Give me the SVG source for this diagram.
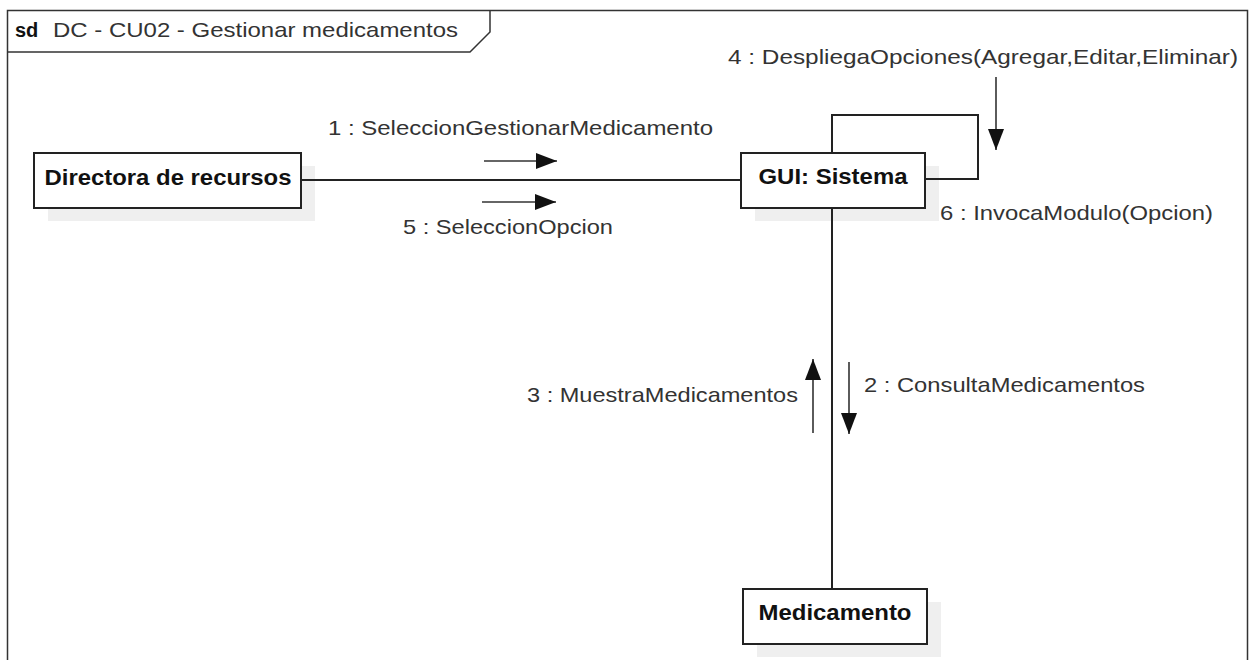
<svg xmlns="http://www.w3.org/2000/svg" width="1255" height="660" viewBox="0 0 1255 660">
<style>
.frame{fill:none;stroke:#333;stroke-width:1.5}
.box{fill:#fff;stroke:#222;stroke-width:2}
.shadow{fill:#efefef}
.link{fill:none;stroke:#222;stroke-width:2}
.msg{fill:none;stroke:#333;stroke-width:1.6}
.lbl{font-family:"Liberation Sans",Arial,sans-serif;font-size:21px;fill:#333}
.nlbl{font-family:"Liberation Sans",Arial,sans-serif;font-size:22px;font-weight:bold;fill:#111;text-anchor:middle}
</style>
<defs>
<marker id="ah" markerUnits="userSpaceOnUse" markerWidth="22" markerHeight="16" refX="21" refY="8" orient="auto">
<path d="M0,0 L21,8 L0,16 z" fill="#111"/>
</marker>
</defs>
<rect width="1255" height="660" fill="#fff"/>
<g id="frame">
<rect class="frame" x="7.5" y="10.5" width="1240" height="720"/>
<path class="frame" d="M7.5,52 H470 L490,32 V10.5"/>
<text x="15" y="37" font-family="Liberation Sans,Arial,sans-serif" font-size="20" font-weight="bold" fill="#111">sd</text>
<text x="53" y="37" font-family="Liberation Sans,Arial,sans-serif" font-size="21" fill="#333" textLength="405" lengthAdjust="spacingAndGlyphs">DC - CU02 - Gestionar medicamentos</text>
</g>
<g id="node-directora">
<rect class="shadow" x="48" y="166" width="267" height="55"/>
<rect class="box" x="34" y="153" width="267" height="55"/>
<text class="nlbl" x="168" y="185" textLength="247" lengthAdjust="spacingAndGlyphs">Directora de recursos</text>
</g>
<g id="node-gui">
<rect class="shadow" x="755" y="166" width="184" height="55"/>
<rect class="box" x="741" y="153" width="184" height="55"/>
<text class="nlbl" x="833" y="184" textLength="149" lengthAdjust="spacingAndGlyphs">GUI: Sistema</text>
</g>
<g id="node-medicamento">
<rect class="shadow" x="757" y="602" width="184" height="55"/>
<rect class="box" x="743" y="589" width="184" height="55"/>
<text class="nlbl" x="835" y="620" textLength="153" lengthAdjust="spacingAndGlyphs">Medicamento</text>
</g>
<g id="connectors">
<line class="link" x1="301" y1="180" x2="741" y2="180"/>
<line class="link" x1="832" y1="208" x2="832" y2="589"/>
<path class="link" d="M832,153 V115 H978 V179 H925"/>
<line class="msg" x1="484" y1="161" x2="557" y2="161" marker-end="url(#ah)"/>
<line class="msg" x1="482" y1="202" x2="556" y2="202" marker-end="url(#ah)"/>
<line class="msg" x1="996" y1="77" x2="996" y2="150" marker-end="url(#ah)"/>
<line class="msg" x1="813" y1="433" x2="813" y2="359" marker-end="url(#ah)"/>
<line class="msg" x1="849" y1="362" x2="849" y2="434" marker-end="url(#ah)"/>
<text class="lbl" x="328" y="135" textLength="385" lengthAdjust="spacingAndGlyphs">1 : SeleccionGestionarMedicamento</text>
<text class="lbl" x="403" y="234" textLength="210" lengthAdjust="spacingAndGlyphs">5 : SeleccionOpcion</text>
<text class="lbl" x="728" y="64" textLength="510" lengthAdjust="spacingAndGlyphs">4 : DespliegaOpciones(Agregar,Editar,Eliminar)</text>
<text class="lbl" x="940" y="220" textLength="273" lengthAdjust="spacingAndGlyphs">6 : InvocaModulo(Opcion)</text>
<text class="lbl" x="527" y="402" textLength="271" lengthAdjust="spacingAndGlyphs">3 : MuestraMedicamentos</text>
<text class="lbl" x="864" y="392" textLength="281" lengthAdjust="spacingAndGlyphs">2 : ConsultaMedicamentos</text>
</g>
</svg>
